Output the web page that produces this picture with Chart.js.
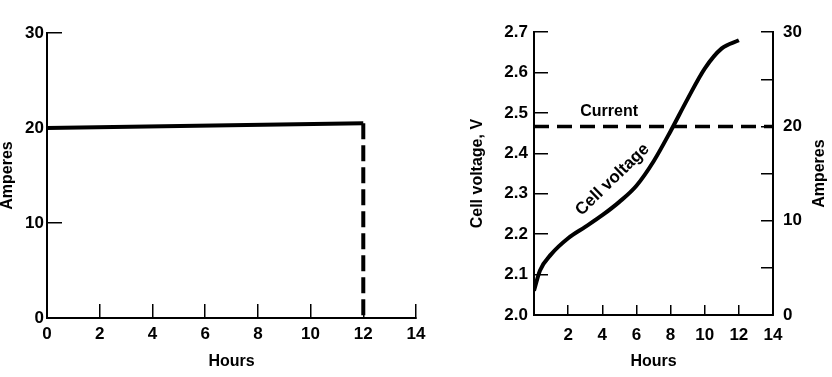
<!DOCTYPE html>
<html>
<head>
<meta charset="utf-8">
<script src="https://cdn.jsdelivr.net/npm/chart.js@4.4.1/dist/chart.umd.min.js"></script>
<style>
  html, body { margin: 0; padding: 0; background: #fff; }
  #wrap { position: relative; width: 832px; height: 377px; }
  canvas { position: absolute; left: 0; top: 0; }
</style>
</head>
<body>
<div id="wrap">
  <canvas id="leftChart" width="832" height="377"></canvas>
  <canvas id="rightChart" width="832" height="377"></canvas>
</div>
<script>
// left panel: charging current, then cut off at 12 h
const chargeHours = [0, 12];
const chargeAmps = [20, 20.5];
const cutoffHours = [12, 12];
const cutoffAmps = [20.5, 0];

// right panel: cell voltage and constant current
const voltHours = [0, 0.35, 1, 2, 3, 4, 5, 6, 7, 8, 9, 10, 11, 12];
const cellVolts = [2.06, 2.11, 2.15, 2.19, 2.218, 2.247, 2.28, 2.32, 2.38, 2.455, 2.535, 2.61, 2.66, 2.68];
const currentHours = [0, 14];
const currentAmps = [20, 20];

const hourTicks = [0, 2, 4, 6, 8, 10, 12, 14];
const ampTickLabels = [0, 10, 20, 30];

const FONT = '"Liberation Sans", Arial, Helvetica, sans-serif';
Chart.defaults.font.family = FONT;
Chart.defaults.color = '#000';

const pts = (xs, ys) => xs.map((x, i) => ({ x: x, y: ys[i] }));
const tickFont = { size: 17, weight: 'bold' };
const titleFont = { size: 16, weight: 'bold', lineHeight: 1 };

function gridOpts(len) {
    return { drawOnChartArea: false, drawTicks: true, tickLength: len, color: '#000', lineWidth: 1.5 };
}
const border = { display: true, color: '#000', width: 2 };

// left chart
new Chart(document.getElementById('leftChart'), {
    type: 'line',
    data: {
        datasets: [
            {
                data: pts(chargeHours, chargeAmps),
                borderColor: '#000',
                borderWidth: 4,
                pointRadius: 0,
            },
            {
                data: pts(cutoffHours, cutoffAmps),
                borderColor: '#000',
                borderWidth: 4,
                borderDash: [16, 6],
                pointRadius: 0,
            },
        ],
    },
    options: {
        responsive: false,
        animation: false,
        devicePixelRatio: 1,
        layout: { padding: { left: 0, top: 33, right: 416, bottom: 0 } },
        plugins: { legend: { display: false }, tooltip: { enabled: false } },
        scales: {
            x: {
                type: 'linear',
                min: 0,
                max: 14,
                afterBuildTicks: (s) => { s.ticks = hourTicks.map(v => ({ value: v })); },
                ticks: { font: tickFont, padding: 20, maxRotation: 0 },
                grid: gridOpts(-14),
                border: border,
                title: { display: true, text: 'Hours', font: titleFont, padding: { top: 0, bottom: 7 } },
                afterFit: (s) => { s.height = 59; },
            },
            y: {
                min: 0,
                max: 30,
                ticks: { stepSize: 10, font: tickFont, padding: 18 },
                grid: gridOpts(-15),
                border: border,
                title: { display: true, text: 'Amperes', font: titleFont, padding: 0 },
                afterFit: (s) => { s.width = 47; },
            },
        },
    },
});

// text written inside the right chart
const rightText = {
    id: 'rightText',
    afterDraw(chart) {
        const { ctx, scales } = chart;
        ctx.save();
        ctx.fillStyle = '#000';
        ctx.textAlign = 'center';
        ctx.textBaseline = 'middle';
        ctx.font = 'bold 16px ' + FONT;
        ctx.fillText('Current', scales.x.getPixelForValue(4.4), scales.y1.getPixelForValue(20) - 15);

        ctx.save();
        ctx.translate(scales.x.getPixelForValue(4.6), scales.y.getPixelForValue(2.335));
        ctx.rotate(-44 * Math.PI / 180);
        ctx.font = 'bold 17px ' + FONT;
        ctx.fillText('Cell voltage', 0, 0);
        ctx.restore();

        ctx.save();
        ctx.translate(820, (scales.y1.top + scales.y1.bottom) / 2);
        ctx.rotate(-Math.PI / 2);
        ctx.font = 'bold 16px ' + FONT;
        ctx.fillText('Amperes', 0, 0);
        ctx.restore();
        ctx.restore();
    },
};

new Chart(document.getElementById('rightChart'), {
    type: 'line',
    data: {
        datasets: [
            {
                data: pts(voltHours, cellVolts),
                yAxisID: 'y',
                borderColor: '#000',
                borderWidth: 4,
                pointRadius: 0,
                cubicInterpolationMode: 'monotone',
            },
            {
                data: pts(currentHours, currentAmps),
                yAxisID: 'y1',
                borderColor: '#000',
                borderWidth: 3.5,
                borderDash: [15, 8],
                pointRadius: 0,
            },
        ],
    },
    options: {
        responsive: false,
        animation: false,
        devicePixelRatio: 1,
        layout: { padding: { left: 470, top: 29, right: 4, bottom: 0 } },
        plugins: { legend: { display: false }, tooltip: { enabled: false } },
        scales: {
            x: {
                type: 'linear',
                min: 0,
                max: 14,
                afterBuildTicks: (s) => { s.ticks = hourTicks.map(v => ({ value: v })); },
                ticks: { font: tickFont, padding: 20, maxRotation: 0, callback: (v) => (v === 0 ? '' : v) },
                grid: gridOpts(-10),
                border: border,
                title: { display: true, text: 'Hours', font: titleFont, padding: { top: 0, bottom: 7 } },
                afterFit: (s) => { s.height = 62; },
            },
            y: {
                position: 'left',
                min: 2.0,
                max: 2.7,
                ticks: { stepSize: 0.1, font: tickFont, padding: 20, callback: (v) => v.toFixed(1) },
                grid: gridOpts(-14),
                border: border,
                title: { display: true, text: 'Cell voltage, V', font: titleFont, padding: 0 },
                afterFit: (s) => { s.width = 64; },
            },
            y1: {
                position: 'right',
                min: 0,
                max: 30,
                ticks: { stepSize: 5, font: tickFont, padding: 22, callback: (v) => (ampTickLabels.includes(v) ? v : '') },
                grid: gridOpts(-12),
                border: border,
                afterFit: (s) => { s.width = 55; },
            },
        },
    },
    plugins: [rightText],
});
</script>
</body>
</html>
